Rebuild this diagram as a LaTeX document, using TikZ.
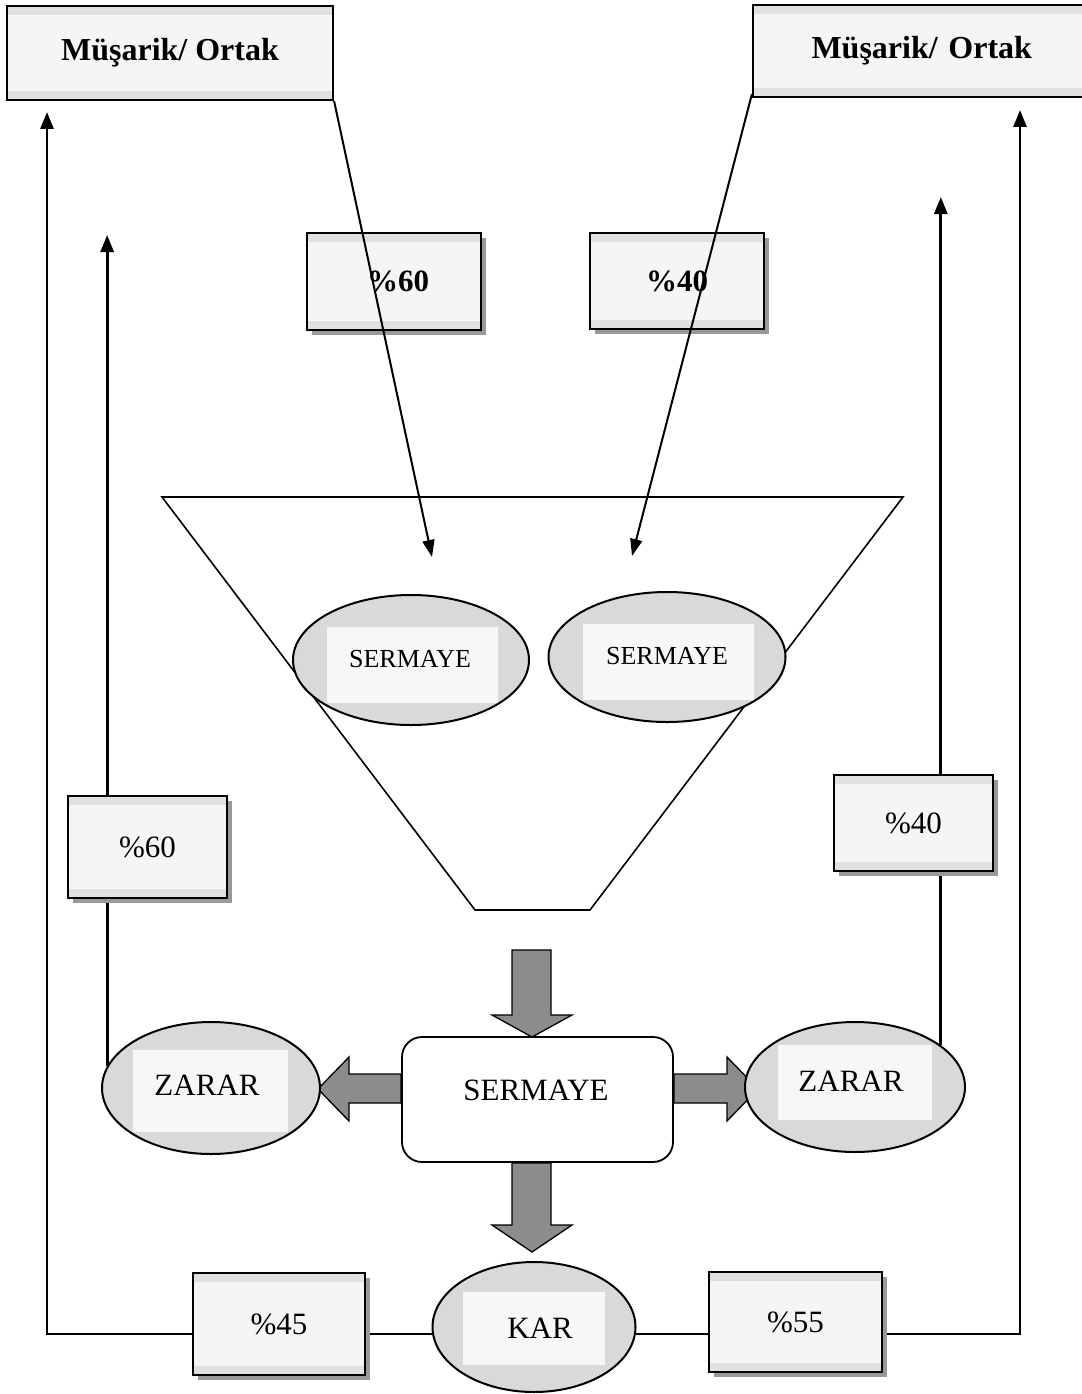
\documentclass[tikz,border=0pt]{standalone}
\usepackage{fontspec}
\setmainfont{Liberation Serif}
\usetikzlibrary{arrows.meta,shapes.geometric,shadows,backgrounds}

\tikzset{
  bandbox/.style={draw, line width=2.2pt, fill=gray!8, inner sep=0pt,
    path picture={
      \fill[gray!24] (path picture bounding box.north west) rectangle ([yshift=-9pt]path picture bounding box.north east);
      \fill[gray!24] (path picture bounding box.south west) rectangle ([yshift=9pt]path picture bounding box.south east);
    }},
  partner/.style={bandbox, font=\fontsize{32}{36}\selectfont\bfseries},
  sharebox/.style={bandbox, drop shadow={shadow xshift=5pt, shadow yshift=-5pt, opacity=1, fill=black!40}},
  topshare/.style={sharebox, font=\fontsize{31}{35}\selectfont\bfseries},
  lowshare/.style={sharebox, font=\fontsize{31}{35}\selectfont},
  pool/.style={ellipse, draw, line width=2pt, fill=black!15, inner sep=0pt},
  plate/.style={fill=gray!6, draw=none, inner sep=0pt},
  word/.style={font=\fontsize{31}{35}\selectfont, inner sep=0pt},
  smallword/.style={font=\fontsize{26}{30}\selectfont, inner sep=0pt},
  flow/.style={line width=2.8pt, -{Triangle[length=17pt,width=13pt]}},
  feed/.style={line width=2pt, -{Triangle[length=17pt,width=12pt]}},
  blockarrow/.style={draw, line width=1.3pt, fill=black!45, line join=miter},
  capital/.style={draw, line width=1.8pt, rounded corners=20pt, fill=white, inner sep=0pt},
}

\begin{document}
\begin{tikzpicture}[x=1pt,y=1pt]
\useasboundingbox (0,0) rectangle (1081,-1394);

% arrow end points
\coordinate (t1) at (432,-557);
\coordinate (t2) at (632,-556);
\coordinate (a1) at (108,-235);
\coordinate (a2) at (940,-197);
\coordinate (a3) at (47,-112);
\coordinate (a4) at (1020,-110);
\coordinate (bl) at (47,-1334);
\coordinate (br) at (1020,-1334);

% funnel
\draw[line width=1.6pt] (162,-497) -- (903,-497) -- (590,-910) -- (475,-910) -- cycle;

% partners
\node[partner, minimum width=326pt, minimum height=94pt] (m1) at (170,-53) {Müşarik/ Ortak};
\node[partner, minimum width=337pt, minimum height=92pt, text width=330pt, align=left] (m2) at (921.5,-51)
  {\hspace*{55pt}Müşarik/ Ortak};

% capital shares
\node[topshare, minimum width=174pt, minimum height=97pt] (p60t) at (394,-281.5) {\hspace*{8pt}\%60};
\node[topshare, minimum width=174pt, minimum height=96pt] (p40t) at (677,-281) {\%40};

% capital pools in the funnel
\node[pool, minimum width=236pt, minimum height=130pt] (s1) at (411,-660) {};
\node[plate, minimum width=171pt, minimum height=76pt] (s1p) at (412.5,-665) {};
\node[smallword] (s1t) at (410,-659) {SERMAYE};
\node[pool, minimum width=237pt, minimum height=130pt] (s2) at (667,-657) {};
\node[plate, minimum width=171pt, minimum height=76pt] (s2p) at (668.5,-662) {};
\node[smallword] (s2t) at (667,-656) {SERMAYE};

% joint capital
\node[capital, minimum width=271pt, minimum height=125pt] (sb) at (537.5,-1099.5) {};
\node[word] (sbt) at (536,-1090) {SERMAYE};

% block arrows
\draw[blockarrow] (512,-950) -- (551,-950) -- (551,-1015) -- (572,-1015) -- (532,-1037)
  -- (492,-1015) -- (512,-1015) -- cycle;
\draw[blockarrow] (512,-1163) -- (551,-1163) -- (551,-1225) -- (572,-1225) -- (532,-1252)
  -- (492,-1225) -- (512,-1225) -- cycle;
\draw[blockarrow] (401,-1074) -- (349,-1074) -- (349,-1057) -- (318,-1089) -- (349,-1121)
  -- (349,-1103) -- (401,-1103) -- cycle;
\draw[blockarrow] (674,-1074) -- (727,-1074) -- (727,-1057) -- (758,-1089) -- (727,-1121)
  -- (727,-1103) -- (674,-1103) -- cycle;

% loss and profit
\node[pool, minimum width=218pt, minimum height=132pt] (zl) at (211,-1088) {};
\node[plate, minimum width=155pt, minimum height=82pt] (zlp) at (210.5,-1091) {};
\node[word] (zlt) at (207,-1085) {ZARAR};
\node[pool, minimum width=220pt, minimum height=130pt] (zr) at (855,-1087) {};
\node[plate, minimum width=154pt, minimum height=75pt] (zrp) at (855,-1082.5) {};
\node[word] (zrt) at (851,-1081) {ZARAR};
\node[pool, minimum width=203pt, minimum height=130pt] (kar) at (534,-1327) {};
\node[plate, minimum width=142pt, minimum height=73pt] (karp) at (534,-1328.5) {};
\node[word] (kart) at (540,-1328) {KAR};

% distribution shares
\node[lowshare, minimum width=159pt, minimum height=102pt] (p60l) at (147.5,-847) {\%60};
\node[lowshare, minimum width=159pt, minimum height=96pt] (p40r) at (913.5,-823) {\%40};
\node[lowshare, minimum width=172pt, minimum height=102pt] (p45) at (279,-1324) {\%45};
\node[lowshare, minimum width=173pt, minimum height=100pt] (p55) at (795.5,-1322) {\%55};

% return flows, behind the boxes
\begin{scope}[on background layer]
  \draw[flow] (zl.168) -- (zl.168 |- a1);
  \draw[flow] (zr.26) -- (zr.26 |- a2);
  \draw[flow] (kar.center |- bl) -- (bl) -- (a3);
  \draw[flow] (kar.center |- br) -- (br) -- (a4);
\end{scope}

% capital contributions
\draw[feed] (m1.south east) -- (t1);
\draw[feed] ([yshift=4pt]m2.south west) -- (t2);

\end{tikzpicture}
\end{document}
